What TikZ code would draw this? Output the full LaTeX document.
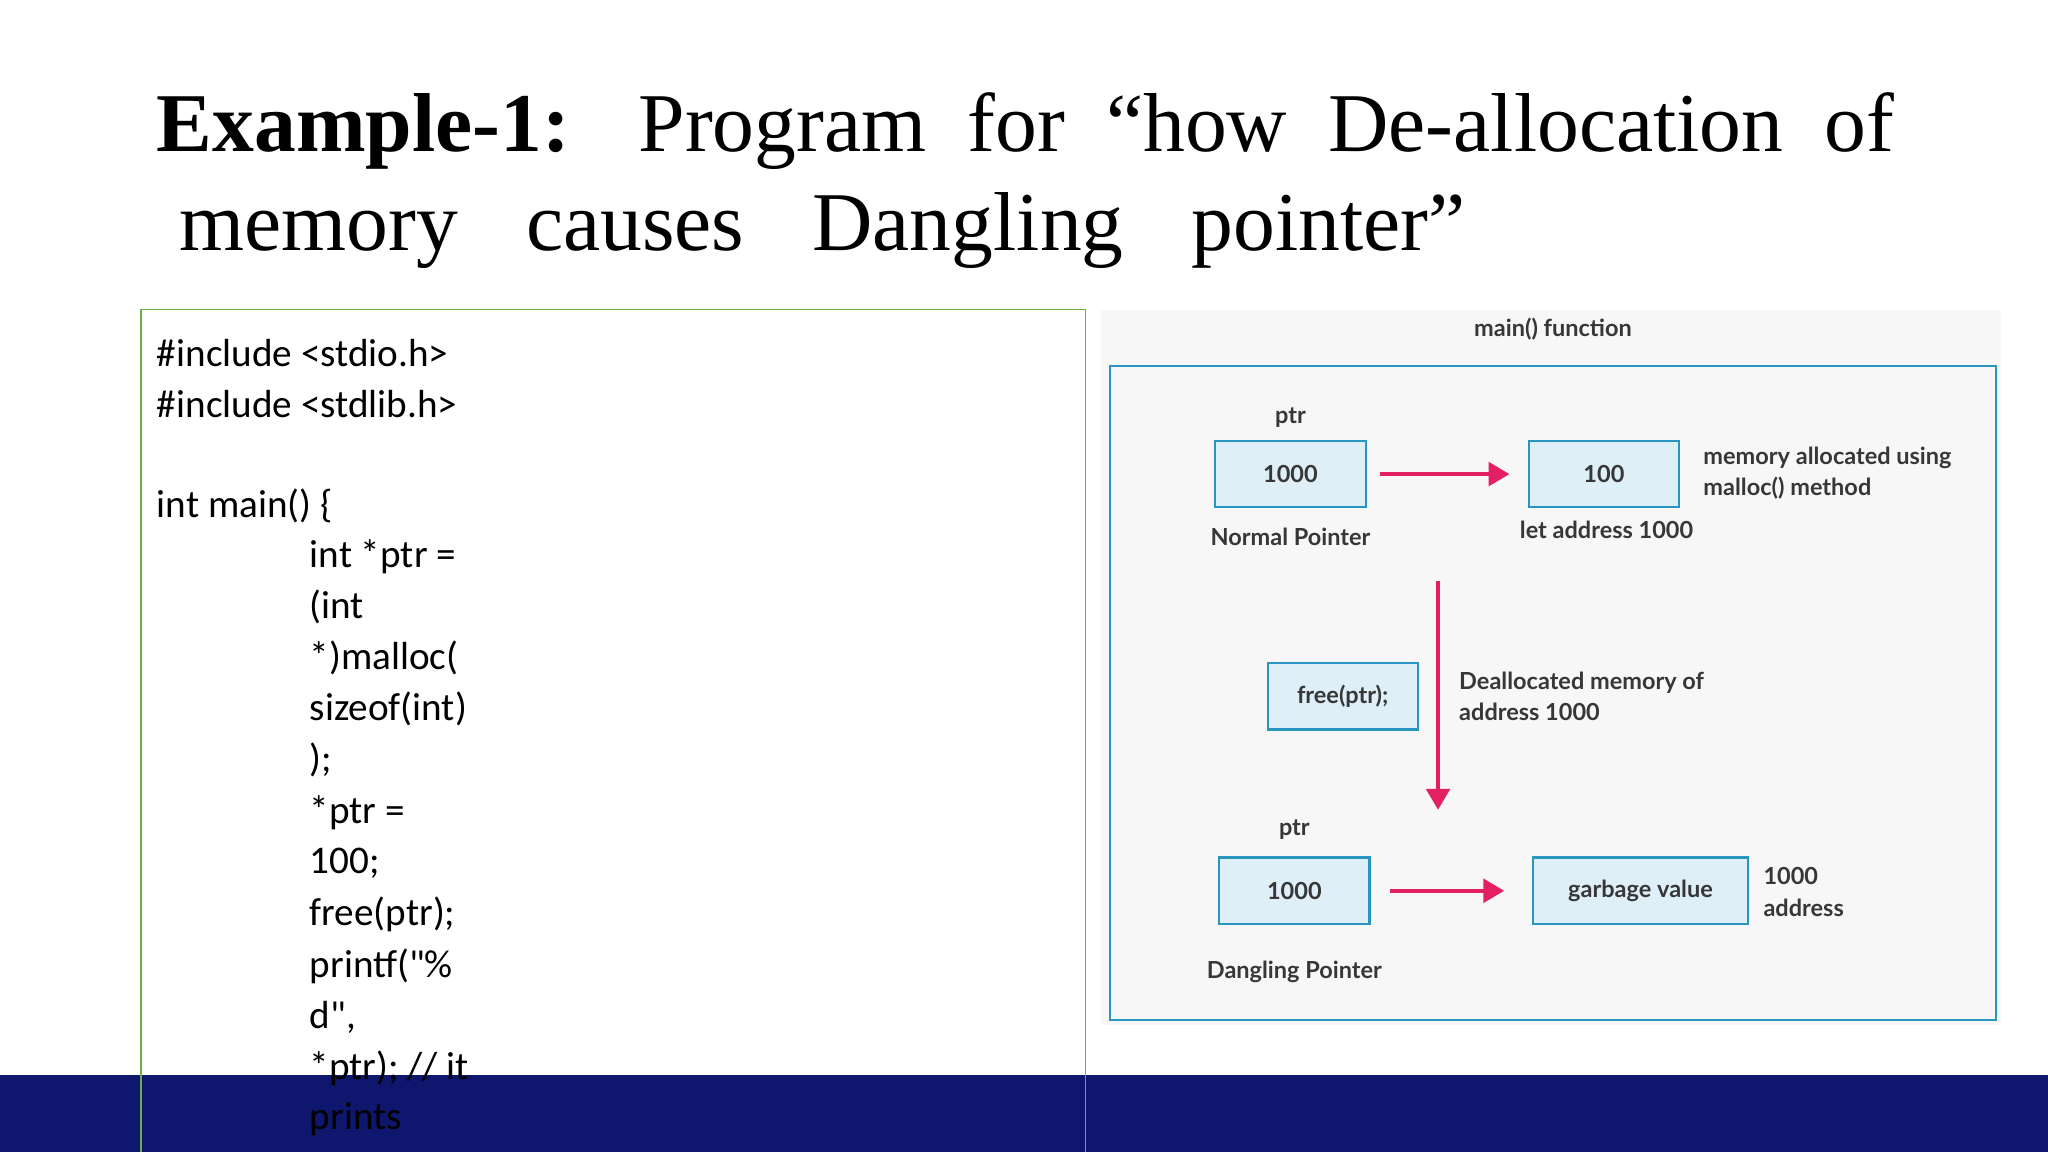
\documentclass[tikz,border=0pt]{standalone}
\usepackage{fontspec}
\setmainfont{Liberation Serif}
\newfontfamily\codefont{Carlito}
\newfontfamily\diafont{Lato}
\usetikzlibrary{arrows.meta}
\definecolor{navy}{RGB}{14,22,110}
\definecolor{frameblue}{RGB}{40,150,190}
\definecolor{boxfill}{RGB}{222,239,248}
\definecolor{pink}{RGB}{228,32,100}
\definecolor{dgray}{RGB}{55,55,55}
\definecolor{codegreen}{RGB}{112,173,71}
\tikzset{
  code/.style={anchor=west,inner sep=0pt,font=\codefont\fontsize{30}{33}\selectfont},
  mbox/.style={draw=frameblue,line width=1.6pt,fill=boxfill,minimum width=115pt,minimum height=51pt,font=\diafont\bfseries\fontsize{18}{20}\selectfont,text=dgray},
  lbl/.style={font=\diafont\bfseries\fontsize{18}{24}\selectfont,text=dgray,inner sep=0pt},
  parr/.style={draw=pink,line width=3pt,-{Triangle[length=16pt,width=18pt]}}
}
\begin{document}
\begin{tikzpicture}[x=1pt,y=-1pt]
\useasboundingbox (0,0) rectangle (1568,882);
\fill[white] (0,0) rectangle (1568,882);
% title
\node[anchor=base west,inner sep=0pt,font=\fontsize{64}{66}\selectfont] (t1) at (120,116) {\makebox[1330pt][s]{\textbf{Example-1:} Program for “how De-allocation of}};
\node[anchor=base west,inner sep=0pt,font=\fontsize{64}{66}\selectfont] (t2) at (137,192) {\makebox[985pt][s]{memory causes Dangling pointer”}};
% bottom band
\fill[navy] (0,823) rectangle (1568,882);
% code box
\draw[codegreen,line width=1pt] (108,882) -- (108,237) -- (831,237) -- (831,882);
\node[code] (c1) at (120,270) {\#include <stdio.h>};
\node[code] (c2) at (120,309) {\#include <stdlib.h>};
\node[code] (c3) at (120,387) {int main() \{};
\node[code] (c4) at (237,426) {int *ptr =};
\node[code] (c5) at (237,465) {(int};
\node[code] (c6) at (237,504) {*)malloc(};
\node[code] (c7) at (237,543) {sizeof(int)};
\node[code] (c8) at (237,582) {);};
\node[code] (c9) at (237,622) {*ptr =};
\node[code] (c10) at (237,661) {100;};
\node[code] (c11) at (237,700) {free(ptr);};
\node[code] (c12) at (237,740) {printf("\%};
\node[code] (c13) at (237,779) {d",};
\node[code] (c14) at (237,818) {*ptr); // it};
\node[code] (c15) at (237,857) {prints};
% diagram
\fill[black!3] (843,237) rectangle (1532,785);
\node[lbl] (mf) at (1189,252) {main() function};
\draw[frameblue,line width=1.8pt] (850,280) rectangle (1528,781);
\node[mbox] (b1) at (988,363) {1000};
\node[mbox] (b2) at (1228,363) {100};
\node[mbox] (b3) at (1028,533) {free(ptr);};
\node[mbox] (b4) at (991,682) {1000};
\node[mbox,minimum width=165pt] (b5) at (1256,682) {garbage value};
\node[lbl] (p1) at (988,320) {ptr};
\node[lbl] (np) at (988,411) {Normal Pointer};
\node[lbl] (la) at (1230,406) {let address 1000};
\node[lbl,anchor=west,align=left] (ma) at (1304,362) {memory allocated using\\malloc() method};
\node[lbl,anchor=west,align=left] (dm) at (1117,533) {Deallocated memory of\\address 1000};
\node[lbl] (p2) at (991,635) {ptr};
\node[lbl] (dp) at (991,744) {Dangling Pointer};
\node[lbl,anchor=west,align=left] (ad) at (1350,683) {1000\\address};
\coordinate (v1) at (1101,445);
\coordinate (v2) at (1101,620);
\draw[parr] (b1.east) ++(10,0) -- ([xshift=-14pt]b2.west);
\draw[parr] (v1) -- (v2);
\draw[parr] (b4.east) ++(15,0) -- ([xshift=-21pt]b5.west);
\end{tikzpicture}
\end{document}
